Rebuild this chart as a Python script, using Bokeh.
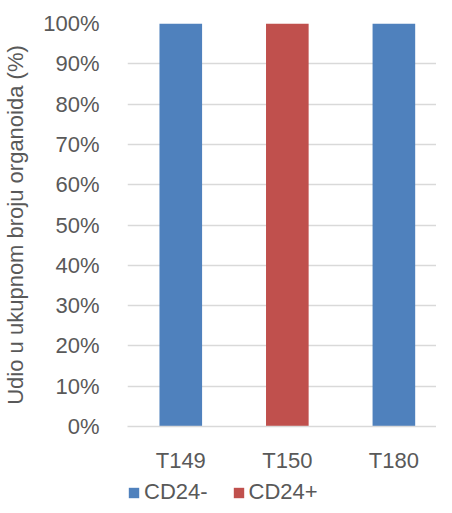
from bokeh.plotting import figure
from bokeh.layouts import column
from bokeh.models import Range1d, FixedTicker, NumeralTickFormatter, Legend, LegendItem, ColumnDataSource
from bokeh.embed import file_html
from bokeh.resources import INLINE

categories = ["T149", "T150", "T180"]
cd24_neg = [1.0, 0.0, 1.0]
cd24_pos = [0.0, 1.0, 0.0]
series_names = ["CD24-", "CD24+"]
colors = ["#4F81BD", "#C0504D"]
y_ticks = [i / 10 for i in range(11)]

xpos = [i + 0.5 for i in range(len(categories))]
src = ColumnDataSource(dict(x=xpos, neg=cd24_neg, pos=cd24_pos))

FONT = "Liberation Sans"
GREY = "#595959"

p = figure(width=436, height=476, output_backend="svg", toolbar_location=None,
           x_range=Range1d(0, 2.9), y_range=Range1d(0, 1.0))
p.min_border_top = 23
p.min_border_right = 0
p.min_border_left = 117
p.min_border_bottom = 50
p.outline_line_color = None

r = p.vbar_stack(["neg", "pos"], x="x", width=0.4, source=src, color=colors, line_color=None)

p.xaxis.ticker = FixedTicker(ticks=xpos)
p.xaxis.major_label_overrides = {x: c for x, c in zip(xpos, categories)}
p.yaxis.ticker = FixedTicker(ticks=y_ticks)
p.yaxis.formatter = NumeralTickFormatter(format="0%")

for ax in (p.xaxis, p.yaxis):
    ax.major_tick_line_color = None
    ax.minor_tick_line_color = None
    ax.major_label_text_font = FONT
    ax.major_label_text_font_size = "22px"
    ax.major_label_text_color = GREY
p.yaxis.axis_line_color = None
p.xaxis.axis_line_color = "#D9D9D9"
p.xaxis.axis_line_width = 1.5
p.xaxis.major_label_standoff = 15
p.yaxis.major_label_standoff = 22
p.yaxis.axis_label = "Udio u ukupnom broju organoida (%)"
p.yaxis.axis_label_text_font = FONT
p.yaxis.axis_label_text_font_size = "22px"
p.yaxis.axis_label_text_font_style = "normal"
p.yaxis.axis_label_text_color = GREY
p.yaxis.axis_label_standoff = 12

p.xgrid.grid_line_color = None
p.ygrid.grid_line_color = "#D9D9D9"
p.ygrid.grid_line_width = 1.5

# Legend strip below the chart (its bars sit outside its visible range)
lg = figure(width=436, height=29, output_backend="svg", toolbar_location=None,
            x_range=Range1d(0, 2.9), y_range=Range1d(5, 6),
            x_axis_location=None, y_axis_location=None)
lg.min_border_left = 125
lg.min_border_right = 0
lg.min_border_top = 0
lg.min_border_bottom = 0
lg.outline_line_color = None
lg.grid.visible = False
r2 = lg.vbar_stack(["neg", "pos"], x="x", width=0.4, source=src, color=colors, line_color=None)

legend = Legend(items=[LegendItem(label=n, renderers=[rr]) for n, rr in zip(series_names, r2)],
                orientation="horizontal", location="bottom_left")
legend.label_text_font = FONT
legend.label_text_font_size = "22px"
legend.label_text_color = GREY
legend.glyph_width = 13
legend.glyph_height = 13
legend.spacing = 24
legend.label_standoff = 4
legend.border_line_color = None
legend.background_fill_alpha = 0
legend.padding = 0
legend.margin = 0
lg.add_layout(legend)

layout = column(p, lg, spacing=0)
open("out.html", "w").write(file_html(layout, INLINE))
